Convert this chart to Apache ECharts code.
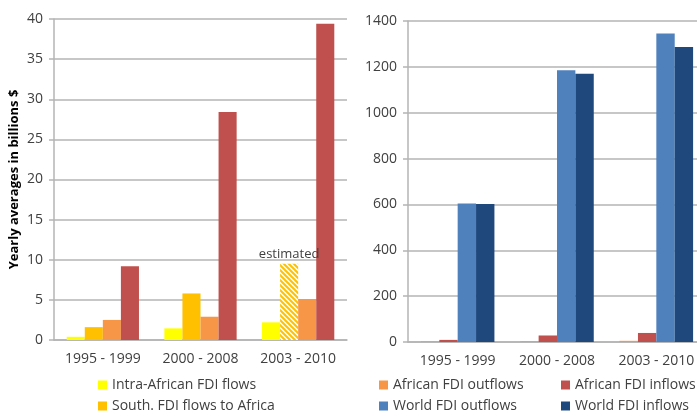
<!DOCTYPE html>
<html>
<head>
<meta charset="UTF-8">
<title>FDI flows</title>
<script type="text/javascript" src="https://cdn.jsdelivr.net/npm/echarts@6/dist/echarts.min.js"></script>
<style>
  html, body { margin: 0; padding: 0; background: #fff; }
</style>
</head>
<body>
<div id="main" style="width:697px;height:414px"></div>
<script type="text/javascript">
// periods
var periods = ['1995 - 1999', '2000 - 2008', '2003 - 2010'];
// billions $, yearly averages
var intraAfrican = [0.4, 1.45, 2.2];
var southToAfrica = [1.6, 5.8, 9.5];   // last one is estimated
var africanOut = [2.5, 2.9, 5.1];
var africanIn = [9.2, 28.4, 39.4];
var worldOut = [604, 1185, 1345];
var worldIn = [602, 1170, 1287];

var leftTicks = { min: 0, max: 40, interval: 5 };
var rightTicks = { min: 0, max: 1400, interval: 200 };

// striped fill for the estimated bar
function stripes() {
	var s = 5;
	var c = document.createElement('canvas');
	c.width = s; c.height = s;
	var ctx = c.getContext('2d');
	ctx.fillStyle = '#fff';
	ctx.fillRect(0, 0, s, s);
	ctx.strokeStyle = '#FFC000';
	ctx.lineWidth = 2;
	ctx.beginPath();
	ctx.moveTo(-1, -1); ctx.lineTo(s + 1, s + 1);
	ctx.moveTo(-1, s - 1); ctx.lineTo(1, s + 1);
	ctx.moveTo(s - 1, -1); ctx.lineTo(s + 1, 1);
	ctx.stroke();
	return c;
}

var txt = '#404040';
var gridCol = '#B4B4B4';
var font = 'Open Sans';

function xAxis(idx) {
	return {
		type: 'category', gridIndex: idx, data: periods,
		axisLine: { lineStyle: { color: gridCol, width: 1.5 } },
		axisTick: { length: 5, lineStyle: { color: gridCol, width: 1.5 } },
		axisLabel: { color: txt, fontSize: 14, fontFamily: font, margin: 12,
			interval: 0, hideOverlap: false }
	};
}
function yAxis(idx, t) {
	return {
		type: 'value', gridIndex: idx, min: t.min, max: t.max, interval: t.interval,
		axisLine: { show: true, lineStyle: { color: gridCol, width: 1.5 } },
		axisTick: { show: true, length: 5, lineStyle: { color: gridCol, width: 1.5 } },
		splitLine: { lineStyle: { color: gridCol, width: 1.5 } },
		axisLabel: { color: txt, fontSize: 14, fontFamily: font, margin: 11,
			formatter: function (v) { return String(v); } }
	};
}

var southData = southToAfrica.map(function (v, i) {
	if (i === 2) {
		return {
			value: v,
			itemStyle: { color: { image: stripes(), repeat: 'repeat' } },
			label: { show: true, position: 'top', formatter: 'estimated', distance: 3,
				color: txt, fontSize: 13, fontFamily: font }
		};
	}
	return v;
});

function bar(name, data, color, idx) {
	return {
		name: name, type: 'bar', data: data,
		xAxisIndex: idx, yAxisIndex: idx,
		barGap: 0, barCategoryGap: '26%',
		itemStyle: { color: color },
		emphasis: { disabled: true }
	};
}

var legendText = { color: txt, fontSize: 14, fontFamily: font, lineHeight: 16 };
function legend(x, y, names) {
	return {
		orient: 'vertical', left: x, top: y, itemWidth: 9, itemHeight: 9,
		itemGap: 5, icon: 'rect', data: names, textStyle: legendText,
		selectedMode: false, padding: 0
	};
}

var ya = yAxis(0, leftTicks);
ya.name = 'Yearly averages in billions $';
ya.nameLocation = 'middle';
ya.nameGap = 33;
ya.nameTextStyle = { color: '#000', fontSize: 13, fontWeight: 'bold', fontFamily: font };

var option = {
	animation: false,
	grid: [
		{ left: 54, right: 350, top: 19, bottom: 74, outerBoundsMode: 'none' },
		{ left: 408, right: -9, top: 21, bottom: 72, outerBoundsMode: 'none' }
	],
	xAxis: [xAxis(0), xAxis(1)],
	yAxis: [ya, yAxis(1, rightTicks)],
	legend: [
		legend(98, 377, ['Intra-African FDI flows', 'South. FDI flows to Africa']),
		legend(379, 377, ['African FDI outflows', 'World FDI outflows']),
		legend(561, 377, ['African FDI inflows', 'World FDI inflows'])
	],
	series: [
		bar('Intra-African FDI flows', intraAfrican, '#FFFF00', 0),
		bar('South. FDI flows to Africa', southData, '#FFC000', 0),
		bar('African FDI outflows', africanOut, '#F79646', 0),
		bar('African FDI inflows', africanIn, '#C0504D', 0),
		bar('African FDI outflows', africanOut, '#F79646', 1),
		bar('African FDI inflows', africanIn, '#C0504D', 1),
		bar('World FDI outflows', worldOut, '#4F81BD', 1),
		bar('World FDI inflows', worldIn, '#1F497D', 1)
	]
};

var chart = echarts.init(document.getElementById('main'));
chart.setOption(option);
</script>
</body>
</html>
